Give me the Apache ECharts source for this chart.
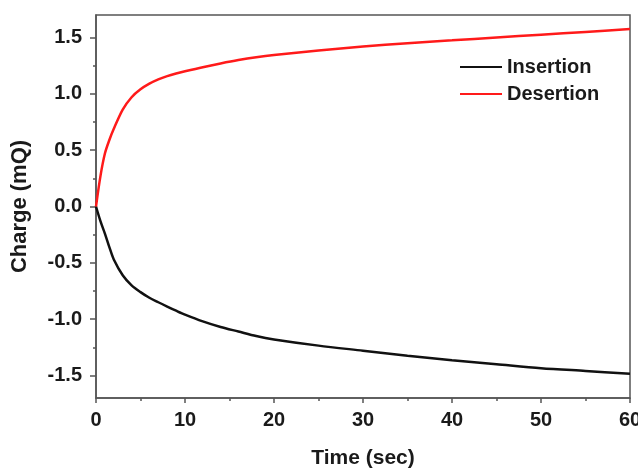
<!DOCTYPE html>
<html><head><meta charset="utf-8">
<script src="https://cdn.jsdelivr.net/npm/echarts@6/dist/echarts.min.js"></script>
<style>html,body{margin:0;padding:0;background:#fff}#c{width:638px;height:468px}</style>
</head><body><div id="c"></div>
<script>
var times = [0,0.5,1,1.5,2,3,4,5,6,7,8,9,10,12,14,16,18,20,25,30,35,40,45,50,55,60];
var insertion = [0,-0.13,-0.24,-0.36,-0.47,-0.61,-0.70,-0.76,-0.81,-0.85,-0.888,-0.925,-0.96,-1.02,-1.07,-1.11,-1.15,-1.18,-1.235,-1.28,-1.325,-1.365,-1.40,-1.435,-1.46,-1.485];
var desertion = [0,0.27,0.47,0.59,0.69,0.86,0.97,1.04,1.09,1.128,1.157,1.18,1.20,1.237,1.27,1.30,1.325,1.345,1.385,1.42,1.45,1.475,1.50,1.525,1.55,1.575];
var yTicks = [-1.5,-1.0,-0.5,0.0,0.5,1.0,1.5];
var yMinorTicks = [-1.25,-0.75,-0.25,0.25,0.75,1.25];
var xTicks = [0,10,20,30,40,50,60];

function pairs(xs, ys){ return xs.map(function(x,i){return [x, ys[i]];}); }

var font = 'Liberation Sans, Arial, sans-serif';
var axisCol = '#555';
var labelStyle = {fontFamily: font, fontWeight: 'bold', fontSize: 20, color: '#1a1a1a'};

var chart = echarts.init(document.getElementById('c'), null, {renderer: 'canvas'});
chart.setOption({
  animation: false,
  backgroundColor: '#fff',
  grid: {left: 96, top: 15, right: 8, bottom: 70, outerBoundsMode: 'none', containLabel: false,
         show: true, borderColor: axisCol, borderWidth: 1.5, backgroundColor: 'transparent'},
  legend: {
    left: 455, top: 52, orient: 'vertical', itemWidth: 42, itemHeight: 20, itemGap: 7,
    icon: 'path://M0,9 L42,9 L42,11 L0,11 Z',
    textStyle: {fontFamily: font, fontWeight: 'bold', fontSize: 20, color: '#1a1a1a'},
    data: ['Insertion', 'Desertion']
  },
  xAxis: {
    type: 'value', min: 0, max: 60, interval: 10,
    name: 'Time (sec)', nameLocation: 'middle', nameGap: 50,
    nameTextStyle: {fontFamily: font, fontWeight: 'bold', fontSize: 21, color: '#1a1a1a'},
    axisLine: {show: true, onZero: false, lineStyle: {color: axisCol, width: 1.5}},
    axisTick: {show: true, inside: false, length: 5, lineStyle: {color: axisCol, width: 1.5}},
    minorTick: {show: true, splitNumber: 2, length: 3, lineStyle: {color: axisCol, width: 1.5}},
    axisLabel: Object.assign({margin: 12, formatter: function(v){return String(v);}}, labelStyle),
    splitLine: {show: false}
  },
  yAxis: [{
    type: 'value', min: -1.7, max: 1.7,
    name: 'Charge (mQ)', nameLocation: 'middle', nameGap: 65,
    nameTextStyle: {fontFamily: font, fontWeight: 'bold', fontSize: 22, color: '#1a1a1a'},
    axisLine: {show: true, onZero: false, lineStyle: {color: axisCol, width: 1.5}},
    axisTick: {show: true, inside: false, length: 6, customValues: yTicks, lineStyle: {color: axisCol, width: 1.5}},
    axisLabel: Object.assign({margin: 14, customValues: yTicks, formatter: function(v){return v.toFixed(1);}}, labelStyle),
    splitLine: {show: false}
  }, {
    type: 'value', min: -1.7, max: 1.7, position: 'left',
    axisLine: {show: false, onZero: false},
    axisTick: {show: true, inside: false, length: 3, customValues: yMinorTicks, lineStyle: {color: axisCol, width: 1.5}},
    axisLabel: {show: false},
    splitLine: {show: false}
  }],
  series: [{
    name: 'Insertion', type: 'line', data: pairs(times, insertion),
    showSymbol: false, symbol: 'none', smooth: 0.3,
    itemStyle: {color: '#111'}, lineStyle: {color: '#111', width: 2.5}
  }, {
    name: 'Desertion', type: 'line', data: pairs(times, desertion),
    showSymbol: false, symbol: 'none', smooth: 0.3,
    itemStyle: {color: '#ff1a1a'}, lineStyle: {color: '#ff1a1a', width: 2.5}
  }]
});
</script>
</body></html>
